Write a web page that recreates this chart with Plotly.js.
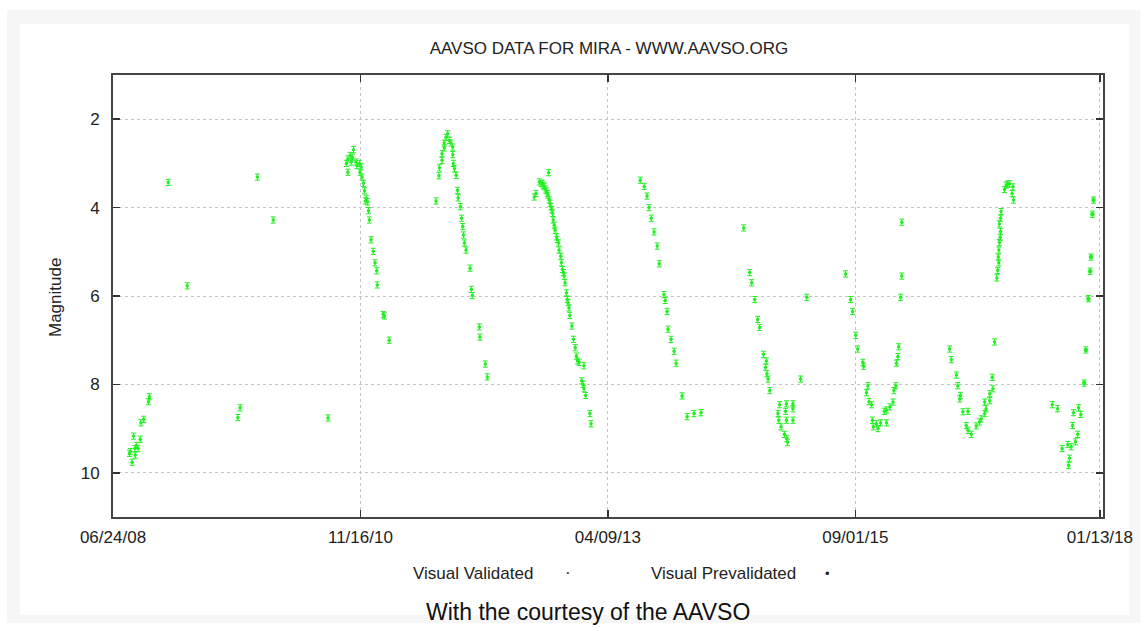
<!DOCTYPE html>
<html>
<head>
<meta charset="utf-8">
<script src="https://cdn.plot.ly/plotly-3.0.1.min.js"></script>
<style>
html,body{margin:0;padding:0;background:#fff;}
#chart{width:1148px;height:628px;}
</style>
</head>
<body>
<div id="chart"></div>
<script>
// Julian Date minus 2450000
var tickJD = [4641.5, 5516.5, 6391.5, 7266.5, 8131.5];
var tickLabels = ['06/24/08', '11/16/10', '04/09/13', '09/01/15', '01/13/18'];
var magTicks = [2, 4, 6, 8, 10];

var validatedJD = [
  // 2008
  4767, 4770, 4750, 4740, 4714, 4738, 4724, 4719, 4730, 4703, 4700, 4720, 4709,
  // sparse 2009-2010
  4837, 4904, 5152, 5208, 5091, 5083, 5402,
  // 2010-2011
  5492, 5472, 5480, 5484, 5501, 5513, 5519, 5472, 5515, 5522, 5531, 5537, 5542, 5545, 5548,
  5554, 5562, 5568, 5574, 5576, 5597, 5601, 5618, 5467, 5488, 5504, 5527, 5534,
  // 2011-2012
  5825, 5819, 5831, 5813, 5837, 5813, 5843, 5805, 5843, 5805, 5845, 5796, 5849, 5794, 5855,
  5860, 5862, 5870, 5874, 5878, 5881, 5884, 5890, 5904, 5784, 5909, 5912, 5937, 5939, 5958, 5965,
  // 2012-2013
  6182, 6149, 6160, 6166, 6137, 6131, 6178, 6184, 6190, 6196, 6198, 6205, 6210, 6217, 6219,
  6225, 6227, 6231, 6237, 6240, 6245, 6248, 6254, 6257, 6264, 6270, 6276, 6280, 6284, 6307,
  6299, 6307, 6313, 6328, 6332, 6156, 6163, 6172, 6173, 6180, 6187, 6193, 6202, 6212, 6234,
  6251, 6290, 6304,
  // 2013-2014
  6506, 6520, 6530, 6537, 6545, 6555, 6566, 6573, 6590, 6594, 6601, 6604, 6615, 6626, 6633,
  6654, 6672, 6696, 6721,
  // 2014-2015
  6872, 6893, 6900, 6911, 6921, 6928, 6942, 6952, 6949, 6954, 6958, 6964, 6999, 7023, 7046,
  7046, 6993, 7020, 6996, 7023, 7046, 7004, 7016, 7024, 7027, 7073, 7095,
  // 2015-2016
  7232, 7250, 7257, 7268, 7275, 7293, 7296, 7311, 7306, 7315, 7324, 7327, 7341, 7356, 7377,
  7330, 7347, 7369, 7377, 7389, 7400, 7403, 7410, 7412, 7417, 7420, 7427, 7431, 7431,
  // 2016-2017
  7600, 7606, 7624, 7629, 7638, 7636, 7647, 7665, 7659, 7665, 7677, 7694, 7706, 7712, 7724,
  7729, 7724, 7742, 7742, 7753, 7751, 7759, 7767, 7770, 7774, 7772, 7774, 7776, 7779, 7780,
  7776, 7780, 7782, 7794, 7800, 7812, 7824, 7821, 7826, 7805,
  // 2017
  7963, 7982, 7998, 8018, 8030, 8024, 8021, 8035, 8045, 8053, 8038, 8056, 8064
];
var validatedMag = [
  8.39, 8.28, 8.79, 8.87, 9.17, 9.24, 9.38, 9.45, 9.45, 9.52, 9.56, 9.60, 9.76,
  3.43, 5.77, 3.31, 4.28, 8.53, 8.75, 8.76,
  2.69, 2.90, 2.82, 2.97, 2.97, 3.00, 3.08, 3.20, 3.20, 3.31, 3.62, 3.79, 3.87, 4.07, 4.28,
  4.73, 4.99, 5.25, 5.43, 5.75, 6.42, 6.45, 7.00, 3.00, 2.86, 3.05, 3.45, 3.85,
  2.33, 2.41, 2.48, 2.54, 2.54, 2.65, 2.63, 2.78, 2.80, 2.93, 3.00, 3.10, 3.12, 3.28, 3.27,
  3.61, 3.78, 3.98, 4.24, 4.43, 4.62, 4.80, 4.96, 5.37, 3.85, 5.85, 5.99, 6.70, 6.93, 7.54, 7.83,
  3.21, 3.42, 3.46, 3.53, 3.68, 3.76, 3.68, 3.83, 3.98, 4.13, 4.28, 4.51, 4.66, 4.80, 4.96,
  5.10, 5.25, 5.40, 5.55, 5.70, 5.93, 6.08, 6.27, 6.44, 6.68, 6.98, 7.17, 7.36, 7.47, 7.58,
  7.92, 8.10, 8.25, 8.66, 8.89, 3.45, 3.50, 3.58, 3.62, 3.72, 3.90, 4.05, 4.40, 4.72, 5.47,
  6.15, 7.50, 8.00,
  3.38, 3.52, 3.74, 4.00, 4.24, 4.55, 4.87, 5.27, 5.97, 6.10, 6.35, 6.75, 6.98, 7.25, 7.52,
  8.26, 8.73, 8.66, 8.64,
  4.46, 5.47, 5.70, 6.08, 6.53, 6.71, 7.32, 7.47, 7.61, 7.76, 7.88, 8.14, 8.46, 8.44, 8.44,
  8.55, 8.66, 8.61, 8.81, 8.81, 8.81, 8.96, 9.13, 9.22, 9.31, 7.88, 6.03,
  5.50, 6.08, 6.35, 6.89, 7.20, 7.50, 7.59, 8.03, 8.19, 8.39, 8.46, 8.81, 8.89, 8.87, 8.87,
  8.96, 9.00, 8.61, 8.58, 8.51, 8.40, 8.14, 8.03, 7.52, 7.37, 7.15, 6.03, 5.55, 4.33,
  7.20, 7.44, 7.79, 8.03, 8.25, 8.33, 8.62, 8.61, 8.93, 9.04, 9.13, 8.94, 8.85, 8.78, 8.66,
  8.55, 8.40, 8.37, 8.21, 8.10, 7.84, 7.04, 5.59, 5.42, 5.25, 5.12, 4.96, 4.79, 4.67, 4.54,
  4.37, 4.24, 4.09, 3.59, 3.49, 3.46, 3.53, 3.68, 3.83, 3.47,
  8.46, 8.55, 9.45, 9.36, 9.41, 9.67, 9.83, 8.93, 9.30, 9.13, 8.64, 8.53, 8.68
];
var prevalidatedJD = [8076, 8082, 8091, 8097, 8100, 8105, 8109];
var prevalidatedMag = [7.97, 7.22, 6.06, 5.44, 5.12, 4.15, 3.83];

var green = '#22f022';
var errStyle = {type: 'constant', value: 0.07, width: 2.5, thickness: 1, color: green};

var traces = [
  {
    x: validatedJD, y: validatedMag, type: 'scatter', mode: 'markers',
    name: 'Visual Validated',
    marker: {color: green, size: 3.5, symbol: 'circle'},
    error_y: errStyle,
    hoverinfo: 'x+y'
  },
  {
    x: prevalidatedJD, y: prevalidatedMag, type: 'scatter', mode: 'markers',
    name: 'Visual Prevalidated',
    marker: {color: green, size: 4.5, symbol: 'circle'},
    error_y: errStyle,
    hoverinfo: 'x+y'
  }
];

var L = 113, R = 1103.5, T = 75, B = 517, W = R - L, H = B - T;
function px(x) { return (x - L) / W; }
function py(y) { return (B - y) / H; }
function note(text, x, y, size, extra) {
  var a = {text: text, xref: 'paper', yref: 'paper', x: px(x), y: py(y),
           xanchor: 'center', yanchor: 'middle', showarrow: false,
           font: {size: size, color: '#222'}};
  if (extra) { for (var k in extra) { a[k] = extra[k]; } }
  return a;
}

var layout = {
  width: 1148, height: 628,
  margin: {l: L, r: 1148 - R, t: T, b: 628 - B, pad: 0},
  paper_bgcolor: '#ffffff',
  plot_bgcolor: 'rgba(0,0,0,0)',
  showlegend: false,
  font: {family: 'Liberation Sans, Arial, sans-serif', color: '#222'},
  title: {
    text: 'AAVSO DATA FOR MIRA - WWW.AAVSO.ORG',
    font: {size: 17, color: '#222'},
    x: 609 / 1148, xanchor: 'center',
    y: 1 - 48 / 628, yanchor: 'middle'
  },
  xaxis: {
    type: 'linear',
    range: [4641.5, 8142.5],
    tickmode: 'array', tickvals: tickJD, ticktext: tickLabels,
    ticks: 'inside', ticklen: 7, tickwidth: 1.5, tickcolor: '#333',
    showline: true, linecolor: '#444', linewidth: 2, mirror: 'ticks',
    showgrid: true, gridcolor: '#c4c4c4', gridwidth: 1, griddash: 'dot',
    zeroline: false,
    tickfont: {size: 17, color: '#222'},
    ticklabelstandoff: 4
  },
  yaxis: {
    range: [11, 1],
    tickmode: 'array', tickvals: magTicks,
    ticks: 'inside', ticklen: 7, tickwidth: 1.5, tickcolor: '#333',
    showline: true, linecolor: '#444', linewidth: 2, mirror: 'ticks',
    showgrid: true, gridcolor: '#c4c4c4', gridwidth: 1, griddash: 'dot',
    zeroline: false,
    tickfont: {size: 17, color: '#222'},
    ticklabelstandoff: 8
  },
  shapes: [
    {type: 'rect', xref: 'paper', yref: 'paper', layer: 'below',
     x0: px(7), x1: px(1141), y0: py(623), y1: py(10),
     fillcolor: '#f6f6f6', line: {width: 0}},
    {type: 'rect', xref: 'paper', yref: 'paper', layer: 'below',
     x0: px(20), x1: px(1130), y0: py(615), y1: py(24),
     fillcolor: '#ffffff', line: {width: 0}}
  ],
  annotations: [
    note('Magnitude', 55, 298, 17, {textangle: -90}),
    note('Visual Validated', 473, 573, 17),
    note('·', 568, 572, 17),
    note('Visual Prevalidated', 723.5, 573, 17),
    note('•', 828, 573, 13),
    note('With the courtesy of the AAVSO', 588.5, 612, 23, {font: {size: 23, color: '#111'}})
  ]
};

Plotly.newPlot('chart', traces, layout, {displayModeBar: false, staticPlot: true});
</script>
</body>
</html>
